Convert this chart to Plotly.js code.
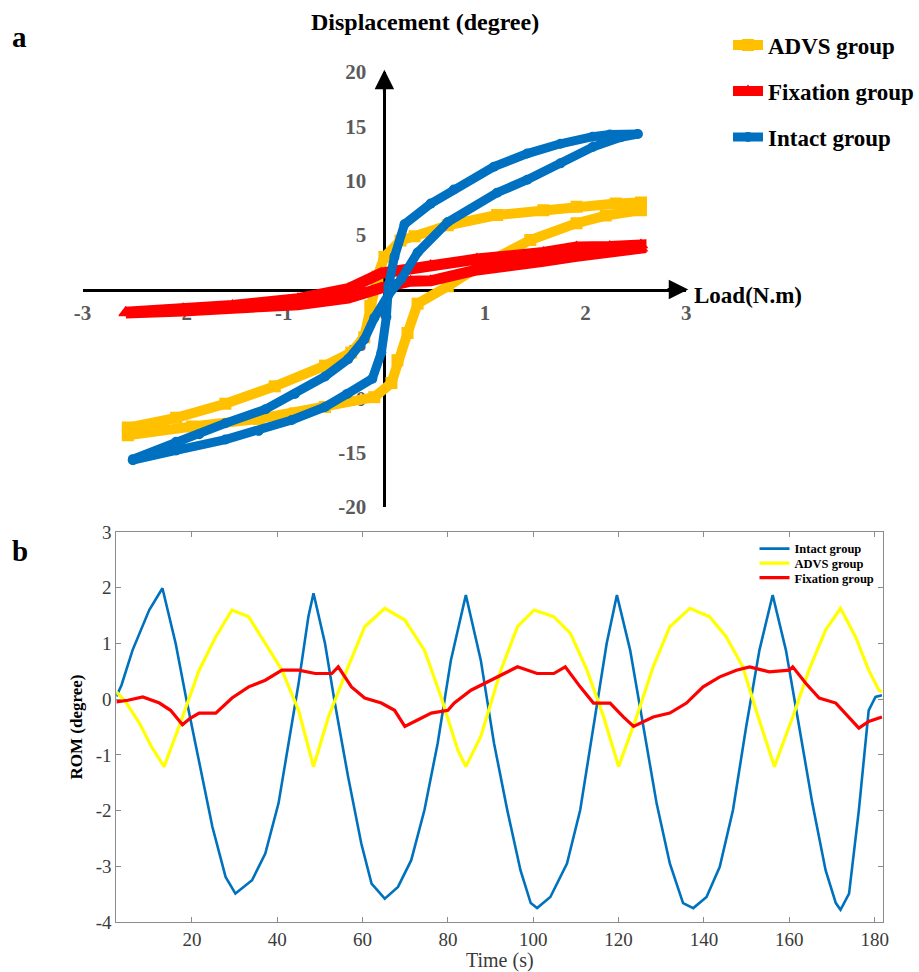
<!DOCTYPE html>
<html>
<head>
<meta charset="utf-8">
<script src="https://cdn.plot.ly/plotly-3.0.1.min.js"></script>
<style>html,body{margin:0;padding:0;background:#fff;}#chart{width:919px;height:972px;}</style>
</head>
<body>
<div id="chart"></div>
<script>
// ---------- Panel a: load vs displacement (hysteresis loops) ----------
var advsLoad = [-2.55,-2.07,-1.58,-1.09,-0.59,-0.33,-0.20,-0.14,-0.07,0.00,0.16,0.30,0.63,1.12,1.58,1.91,2.30,2.55,
                2.55,2.20,1.91,1.45,0.92,0.63,0.33,0.23,0.13,0.07,-0.10,-0.59,-0.89,-1.25,-1.91,-2.55];
var advsDisp = [-12.7,-11.8,-10.5,-8.9,-7.0,-5.8,-4.4,-1.5,1.2,3.0,4.5,4.9,5.9,6.85,7.3,7.6,7.9,8.0,
                7.3,6.8,6.1,4.55,2.0,0.3,-1.3,-4.0,-6.5,-8.6,-9.9,-10.8,-11.4,-11.9,-12.6,-13.4];

var fixLoad = [-2.57,-2.00,-1.51,-0.86,-0.36,-0.03,0.26,0.46,0.92,1.58,1.91,2.24,2.55,
               2.55,2.24,1.91,1.58,0.92,0.46,0.26,-0.03,-0.36,-0.86,-1.51,-2.00,-2.57];
var fixDisp = [-2.1,-1.78,-1.47,-0.85,0.07,1.5,1.9,2.2,2.8,3.4,3.9,3.95,4.1,
               3.8,3.5,3.05,2.6,1.8,0.8,0.76,0.15,-0.8,-1.4,-1.8,-1.97,-2.15];

var intactLoad = [-2.50,-2.07,-1.84,-1.58,-1.18,-0.89,-0.59,-0.36,-0.20,-0.10,0.04,0.17,0.33,0.63,1.12,1.42,1.75,2.07,2.35,2.52,
                  2.24,2.07,1.75,1.42,1.09,0.69,0.46,0.20,0.10,0.04,0.02,-0.03,-0.12,-0.37,-0.59,-0.92,-1.25,-1.58,-2.07,-2.50];
var intactDisp = [-15.6,-14.0,-13.3,-12.3,-11.0,-9.6,-8.0,-6.4,-4.6,-2.6,-0.5,1.0,3.4,6.2,8.9,10.1,11.6,13.1,14.0,14.3,
                  14.25,14.05,13.4,12.5,11.3,9.2,7.9,6.0,3.0,0.3,-2.5,-5.8,-8.2,-9.6,-10.8,-12.0,-13.0,-13.8,-14.8,-15.7];

var loadTicks = [-3,-2,-1,0,1,2,3];
var loadTickText = ['-3','-2','-1','0','1','2','3'];
var dispTicks = [-20,-15,-10,-5,0,5,10,15,20];
var dispTickText = ['-20','-15','-10','-5','0','5','10','15','20'];

// ---------- Panel b: ROM over time ----------
var intactT = [2.3,3.5,6.1,10,13.1,16.2,18.6,21.7,24.8,27.9,30.2,34.1,37.2,40.3,42.7,45,47.3,48.5,51.2,53.5,56.6,59.7,62.1,65.2,68.3,71.4,74.5,77.6,80.7,84.2,87.7,90.8,93.9,97,99.4,100.9,104,107.9,111,114.1,117.2,119.6,122.7,125.8,128.9,132,135.1,137.5,140.6,143.7,146.8,149.9,153,156.1,159.2,162.3,165.4,168.5,170.9,172,174,176.3,178.6,180.2,181.7];
var intactV = [0.05,0.25,0.88,1.6,1.99,1.0,0.04,-1.15,-2.29,-3.19,-3.49,-3.25,-2.77,-1.87,-0.79,0.28,1.48,1.9,1.0,-0.07,-1.39,-2.59,-3.31,-3.58,-3.37,-2.89,-1.99,-0.79,0.7,1.87,0.7,-0.79,-1.99,-3.07,-3.66,-3.75,-3.55,-2.95,-1.99,-0.49,1.0,1.87,0.88,-0.49,-1.87,-2.95,-3.66,-3.75,-3.55,-3.01,-1.99,-0.49,0.88,1.87,0.88,-0.49,-1.87,-3.07,-3.66,-3.78,-3.49,-1.99,-0.2,0.04,0.07];

var advsT = [2.3,4.5,7.7,10.5,13.5,17,21.7,25.6,29.4,33.3,37.2,41.1,45,48.5,52,56.6,60.5,65.2,69.9,74.5,78.4,82.3,84.2,87.7,92.4,96.3,100.2,104.8,108.7,112.6,116.5,120,124.2,128.1,132,136.7,141.3,145.2,149.1,152.2,156.5,160.8,164.6,168.5,172,175.5,178.6,181,181.7];
var advsV = [0.13,-0.05,-0.43,-0.85,-1.21,-0.49,0.52,1.12,1.6,1.48,1.0,0.52,-0.2,-1.21,-0.32,0.58,1.3,1.63,1.42,0.88,0.04,-0.91,-1.21,-0.67,0.52,1.3,1.6,1.48,1.18,0.52,-0.32,-1.21,-0.32,0.58,1.3,1.63,1.48,1.12,0.58,-0.2,-1.21,-0.32,0.52,1.24,1.63,1.12,0.52,0.16,0.13];

var fixT = [2.3,5,8.5,12.4,15,17.8,19.5,21.7,25.6,29.4,33.3,37.2,41.1,45,48.9,52.8,54.3,57.4,60.5,64.4,67.5,69.9,73,76.1,80,81.5,85.4,89.3,93.2,96.3,100.9,104.8,107.5,111,114.1,118,121.1,123.5,128.1,132,135.9,139.8,143.7,147.6,150.7,155.3,160,160.8,163.9,167,170.9,174,176.3,178.6,181.7];
var fixV = [-0.05,-0.02,0.04,-0.07,-0.2,-0.46,-0.35,-0.25,-0.25,0.02,0.22,0.34,0.52,0.52,0.46,0.46,0.58,0.22,0.02,-0.07,-0.2,-0.49,-0.37,-0.25,-0.2,-0.07,0.16,0.31,0.46,0.58,0.46,0.46,0.58,0.22,-0.07,-0.07,-0.32,-0.49,-0.32,-0.25,-0.07,0.22,0.4,0.52,0.58,0.49,0.52,0.58,0.28,0.02,-0.07,-0.32,-0.52,-0.4,-0.32];

var timeTicks = [20,40,60,80,100,120,140,160,180];
var romTicks = [-4,-3,-2,-1,0,1,2,3];
var romTickText = ['-4','-3','-2','-1','0','1','2','3'];

var serif = 'Liberation Serif, Times New Roman, serif';

var traces = [
  {x: advsLoad, y: advsDisp, name: 'ADVS group', mode: 'lines+markers', legend: 'legend',
   line: {color: '#FFC000', width: 10}, marker: {symbol: 'square', size: 12, color: '#FFC000'}, xaxis: 'x', yaxis: 'y'},
  {x: fixLoad, y: fixDisp, name: 'Fixation group', mode: 'lines+markers', legend: 'legend5',
   line: {color: '#FF0000', width: 11}, marker: {symbol: 'triangle-up', size: 13, color: '#FF0000'}, xaxis: 'x', yaxis: 'y'},
  {x: intactLoad, y: intactDisp, name: 'Intact group', mode: 'lines+markers', legend: 'legend6',
   line: {color: '#0070C0', width: 9}, marker: {symbol: 'circle', size: 10, color: '#0070C0'}, xaxis: 'x', yaxis: 'y'},

  {x: intactT, y: intactV, name: 'Intact group', mode: 'lines', legend: 'legend2',
   line: {color: '#0072BD', width: 2.6}, xaxis: 'x2', yaxis: 'y2'},
  {x: advsT, y: advsV, name: 'ADVS group', mode: 'lines', legend: 'legend3',
   line: {color: '#FFFF00', width: 3.2}, xaxis: 'x2', yaxis: 'y2'},
  {x: fixT, y: fixV, name: 'Fixation group', mode: 'lines', legend: 'legend4',
   line: {color: '#FF0000', width: 3.2}, xaxis: 'x2', yaxis: 'y2'}
];

function legA(y) {
  return {x: 0.7965, y: y, xanchor: 'left', yanchor: 'middle',
    font: {family: serif, size: 23, color: '#000', weight: 'bold'},
    bgcolor: 'rgba(0,0,0,0)', itemwidth: 30};
}
function legB(y) {
  return {x: 0.8255, y: y, xanchor: 'left', yanchor: 'middle',
    font: {family: serif, size: 12.5, color: '#000', weight: 'bold'},
    bgcolor: 'rgba(0,0,0,0)', itemwidth: 30};
}

var layout = {
  width: 919, height: 972,
  margin: {l: 0, r: 0, t: 0, b: 0},
  paper_bgcolor: '#ffffff', plot_bgcolor: 'rgba(0,0,0,0)',
  font: {family: serif, color: '#000'},
  showlegend: true,
  xaxis: {
    domain: [0.0903, 0.7508], range: [-3, 3], anchor: 'free', position: 0.70215,
    showline: true, linecolor: '#000', linewidth: 3, showgrid: false, zeroline: false,
    tickvals: loadTicks, ticktext: loadTickText, ticks: 'outside', ticklen: 3, tickcolor: 'rgba(0,0,0,0)',
    tickfont: {family: serif, size: 21, color: '#5a5a5a', weight: 'bold'},
    layer: 'below traces', fixedrange: true
  },
  yaxis: {
    domain: [0.4784, 0.9259], range: [-20, 20], anchor: 'free', position: 0.42055,
    showline: true, linecolor: '#000', linewidth: 3, showgrid: false, zeroline: false,
    tickvals: dispTicks, ticktext: dispTickText, ticks: 'outside', ticklen: 13, tickcolor: 'rgba(0,0,0,0)',
    tickfont: {family: serif, size: 21, color: '#5a5a5a', weight: 'bold'},
    layer: 'below traces', fixedrange: true
  },
  xaxis2: {
    domain: [0.1273, 0.9663], range: [2.3, 182], anchor: 'y2',
    showline: true, mirror: 'ticks', linecolor: '#8c8c8c', linewidth: 1,
    ticks: 'inside', ticklen: 5, tickcolor: '#8c8c8c', tickvals: timeTicks,
    showgrid: false, zeroline: false,
    tickfont: {family: serif, size: 19, color: '#3a3a3a'},
    title: {text: 'Time (s)', font: {family: serif, size: 20, color: '#3a3a3a'}, standoff: 5},
    fixedrange: true
  },
  yaxis2: {
    domain: [0.0514, 0.4527], range: [-4, 3], anchor: 'x2',
    showline: true, mirror: 'ticks', linecolor: '#8c8c8c', linewidth: 1,
    ticks: 'inside', ticklen: 5, tickcolor: '#8c8c8c', tickvals: romTicks, ticktext: romTickText,
    showgrid: false, zeroline: false,
    tickfont: {family: serif, size: 19, color: '#3a3a3a'},
    title: {text: 'ROM (degree)', font: {family: serif, size: 17, color: '#000', weight: 'bold'}, standoff: 8},
    fixedrange: true
  },
  legend: legA(0.9537),
  legend5: legA(0.9064),
  legend6: legA(0.8591),
  legend2: legB(0.4352),
  legend3: legB(0.4203),
  legend4: legB(0.4053),
  annotations: [
    {xref: 'x', yref: 'y', x: 3.02, y: 0, ax: 2.8, ay: 0, axref: 'x', ayref: 'y', text: '',
     showarrow: true, arrowhead: 2, arrowsize: 1.3, arrowwidth: 3, arrowcolor: '#000'},
    {xref: 'x', yref: 'y', x: 0, y: 20.2, ax: 0, ay: 18, axref: 'x', ayref: 'y', text: '',
     showarrow: true, arrowhead: 2, arrowsize: 1.3, arrowwidth: 3, arrowcolor: '#000'},
    {xref: 'paper', yref: 'paper', x: 0.4646, y: 0.977, xanchor: 'center', yanchor: 'middle', showarrow: false,
     text: 'Displacement (degree)', font: {family: serif, size: 24, color: '#000', weight: 'bold'}},
    {xref: 'paper', yref: 'paper', x: 0.7575, y: 0.6965, xanchor: 'left', yanchor: 'middle', showarrow: false,
     text: 'Load(N.m)', font: {family: serif, size: 23, color: '#000', weight: 'bold'}},
    {xref: 'paper', yref: 'paper', x: 0.011, y: 0.962, xanchor: 'left', yanchor: 'middle', showarrow: false,
     text: 'a', font: {family: serif, size: 29, color: '#000', weight: 'bold'}},
    {xref: 'paper', yref: 'paper', x: 0.011, y: 0.433, xanchor: 'left', yanchor: 'middle', showarrow: false,
     text: 'b', font: {family: serif, size: 29, color: '#000', weight: 'bold'}}
  ]
};

Plotly.newPlot('chart', traces, layout, {displayModeBar: false, staticPlot: true});
</script>
</body>
</html>
